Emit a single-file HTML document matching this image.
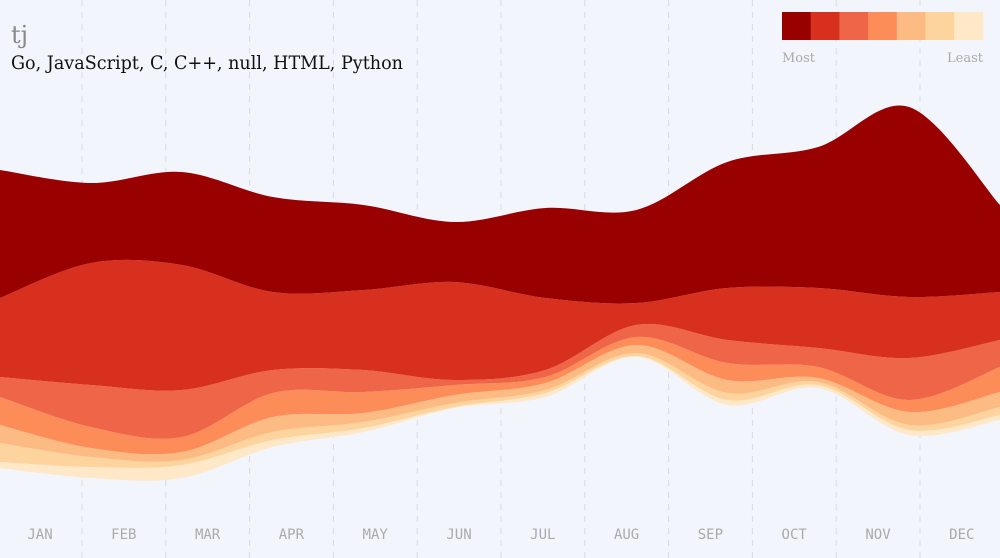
<!DOCTYPE html>
<html><head><meta charset="utf-8"><style>
html,body{margin:0;padding:0;background:#f2f5fc;}
svg{display:block;}
</style></head><body>
<svg id="chart" width="1000" height="558" xmlns="http://www.w3.org/2000/svg">
<rect width="1000" height="558" fill="#f2f5fc"/>
<g id="grid"></g>
<g id="layers"></g>
<g id="xaxis"></g>
<text x="11" y="43" font-family="'DejaVu Serif',serif" font-size="24" fill="#888">tj</text>
<text x="11" y="69" font-family="'DejaVu Serif',serif" font-size="19" fill="#111" textLength="392" lengthAdjust="spacingAndGlyphs">Go, JavaScript, C, C++, null, HTML, Python</text>
<g id="legend"></g>
<text x="782" y="62" font-family="'DejaVu Serif',serif" font-size="13" fill="#aaa">Most</text>
<text x="983" y="62" text-anchor="end" font-family="'DejaVu Serif',serif" font-size="13" fill="#aaa">Least</text>
</svg>
<script>
const months = ["JAN","FEB","MAR","APR","MAY","JUN","JUL","AUG","SEP","OCT","NOV","DEC"];
const seriesNames = ["Go","JavaScript","C","C++","null","HTML","Python"];
const goVals     = [128, 80, 93, 95, 85, 60, 90, 93,126,141,190, 87];
const jsVals     = [ 79,122,125, 78, 80, 98, 72, 22, 52, 60, 61, 48];
const cVals      = [ 20, 42, 47, 23, 22,  5,  7, 12, 23, 19, 42, 27];
const cppVals    = [ 28, 21, 15, 24, 21, 10,  6,  8, 17, 11, 12, 25];
const nullVals   = [ 18,  9,  8, 15,  9,  8,  7,  8, 13,  4, 13, 15];
const htmlVals   = [ 19, 10,  5,  8,  6,  4,  3,  3,  7,  3,  5,  8];
const pythonVals = [  6, 11, 13,  7,  4,  1,  4,  1,  5,  3,  5,  5];
const streamOffset = [92, 82, 82,113,128,152,163,203,155,172,125,140];
const colors = ["#990000","#d7301f","#ef6548","#fc8d59","#fdbb84","#fdd49e","#fee8c8"];

const NS="http://www.w3.org/2000/svg";
const xS = i => i*1000/(months.length-1);
const yS = v => 560 - v;
const series=[goVals,jsVals,cVals,cppVals,nullVals,htmlVals,pythonVals];

function curve(pts){
  let d="M"+pts[0][0]+","+pts[0][1];
  for(let i=0;i<pts.length-1;i++){
    const p0=pts[Math.max(0,i-1)],p1=pts[i],p2=pts[i+1],p3=pts[Math.min(pts.length-1,i+2)];
    const c1x=p1[0]+(p2[0]-p0[0])/6,c1y=p1[1]+(p2[1]-p0[1])/6;
    const c2x=p2[0]-(p3[0]-p1[0])/6,c2y=p2[1]-(p3[1]-p1[1])/6;
    d+=" C"+c1x+","+c1y+" "+c2x+","+c2y+" "+p2[0]+","+p2[1];
  }
  return d;
}
function lineTo(pts){
  let d=" L"+pts[0][0]+","+pts[0][1];
  return d+curve(pts).replace(/^M[^ ]+/,"");
}
const grid=document.getElementById('grid');
for(let k=1;k<12;k++){
  const x=82+83.8*(k-1);
  const l=document.createElementNS(NS,'line');
  l.setAttribute('x1',x);l.setAttribute('x2',x);l.setAttribute('y1',0);l.setAttribute('y2',558);
  l.setAttribute('stroke','#d8dbe2');l.setAttribute('stroke-dasharray','6,6');
  
  
  grid.appendChild(l);
}
const layers=document.getElementById('layers');
let base=streamOffset.slice();
for(let s=series.length-1;s>=0;s--){
  const top=base.map((b,i)=>b+series[s][i]);
  const topPts=top.map((v,i)=>[xS(i),yS(v)]);
  const botPts=base.map((v,i)=>[xS(i),yS(v)]).reverse();
  const p=document.createElementNS(NS,'path');
  p.setAttribute('d',curve(topPts)+lineTo(botPts)+" Z");
  p.setAttribute('fill',colors[s]);
  
  
  layers.appendChild(p);
  base=top;
}
const xa=document.getElementById('xaxis');
months.forEach((m,i)=>{
  const t=document.createElementNS(NS,'text');
  t.setAttribute('x',40+83.8*i);t.setAttribute('y',539);
  t.setAttribute('text-anchor','middle');
  t.setAttribute('font-family',"'DejaVu Sans Mono','Liberation Mono',monospace");
  t.setAttribute('font-size','14');t.setAttribute('fill','#aaa');
  t.textContent=m;
  
  
  xa.appendChild(t);
});
const lg=document.getElementById('legend');
colors.forEach((c,i)=>{
  const r=document.createElementNS(NS,'rect');
  r.setAttribute('x',782+28.7*i);r.setAttribute('y',12);r.setAttribute('width',29);r.setAttribute('height',28);
  r.setAttribute('fill',c);
  
  
  lg.appendChild(r);
});
</script>
</body></html>
